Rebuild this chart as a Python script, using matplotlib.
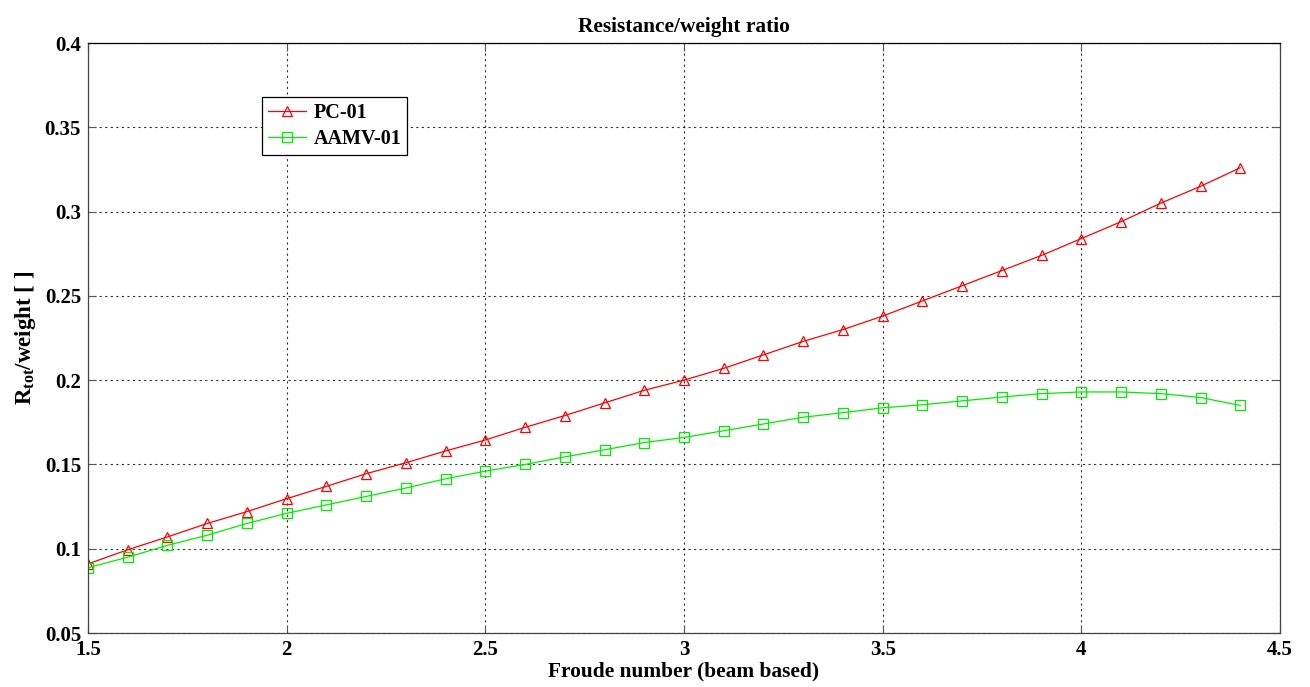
import matplotlib
matplotlib.use("Agg")
import matplotlib.pyplot as plt
import numpy as np

froude = [1.5, 1.6, 1.7, 1.8, 1.9, 2.0, 2.1, 2.2, 2.3, 2.4, 2.5, 2.6, 2.7, 2.8, 2.9,
          3.0, 3.1, 3.2, 3.3, 3.4, 3.5, 3.6, 3.7, 3.8, 3.9, 4.0, 4.1, 4.2, 4.3, 4.4]
pc01 = [0.091, 0.0994, 0.107, 0.115, 0.122, 0.1297, 0.137, 0.1445, 0.151, 0.158,
        0.1645, 0.172, 0.179, 0.1865, 0.194, 0.200, 0.207, 0.215, 0.223, 0.230,
        0.238, 0.247, 0.256, 0.265, 0.274, 0.284, 0.294, 0.305, 0.315, 0.326]
aamv01 = [0.0887, 0.095, 0.102, 0.108, 0.115, 0.121, 0.126, 0.131, 0.136, 0.1415,
          0.146, 0.150, 0.1545, 0.1587, 0.163, 0.166, 0.170, 0.174, 0.178, 0.1807,
          0.1836, 0.1854, 0.1877, 0.190, 0.192, 0.193, 0.193, 0.192, 0.1897, 0.185]

xticks = [1.5, 2, 2.5, 3, 3.5, 4, 4.5]
xticklabels = ["1.5", "2", "2.5", "3", "3.5", "4", "4.5"]
yticks = [0.05, 0.1, 0.15, 0.2, 0.25, 0.3, 0.35, 0.4]
yticklabels = ["0.05", "0.1", "0.15", "0.2", "0.25", "0.3", "0.35", "0.4"]

plt.rcParams['font.family'] = ['Liberation Serif', 'DejaVu Serif']
plt.rcParams['font.weight'] = 'bold'
plt.rcParams['mathtext.fontset'] = 'custom'
plt.rcParams['mathtext.rm'] = 'Liberation Serif:bold'
plt.rcParams['mathtext.it'] = 'Liberation Serif:bold'
plt.rcParams['mathtext.bf'] = 'Liberation Serif:bold'

fig = plt.figure(figsize=(13.1, 6.87), dpi=100)
ax = fig.add_axes([0.0672, 0.0786, 0.9099, 0.8588])

ax.plot(froude, pc01, color='#ff0000', marker='^', markersize=7.5, markerfacecolor='none',
        markeredgecolor='#ff0000', markeredgewidth=0.9, linewidth=0.9, label='PC-01')
ax.plot(froude, aamv01, color='#00ee00', marker='s', markersize=7, markerfacecolor='none',
        markeredgecolor='#00ee00', markeredgewidth=0.9, linewidth=0.9, label='AAMV-01')

ax.set_xlim(1.5, 4.5)
ax.set_ylim(0.05, 0.4)
ax.set_xticks(xticks)
ax.set_xticklabels(xticklabels)
ax.set_yticks(yticks)
ax.set_yticklabels(yticklabels)
ax.tick_params(direction='in', top=True, right=True, labelsize=15, length=6, width=0.8,
               color='#555555')
ax.tick_params(axis='x', pad=5)
ax.tick_params(axis='y', pad=5)
for lab in ax.get_xticklabels() + ax.get_yticklabels():
    lab.set_fontweight('bold')
ax.grid(True, color='black', linestyle=(0, (2, 3)), linewidth=0.8, alpha=0.8)
for s in ax.spines.values():
    s.set_color('#444444')
    s.set_linewidth(0.9)
ax.spines['top'].set_color('black')

ax.set_title('Resistance/weight ratio', fontsize=15.4, fontweight='bold', pad=8)
ax.set_xlabel('Froude number (beam based)', fontsize=15.4, fontweight='bold', labelpad=1)
ax.set_ylabel(r'R$_{\rm tot}$/weight [ ]', fontsize=16.5, fontweight='bold', labelpad=5)

leg = ax.legend(loc='upper left', bbox_to_anchor=(0.146, 0.908), borderaxespad=0,
                fancybox=False, edgecolor='black', framealpha=1,
                prop={'size': 14.5, 'weight': 'bold'}, handlelength=1.9,
                borderpad=0.3, labelspacing=0.3, handletextpad=0.35)
leg.get_frame().set_linewidth(0.9)

fig.savefig('out.png', dpi=100)
